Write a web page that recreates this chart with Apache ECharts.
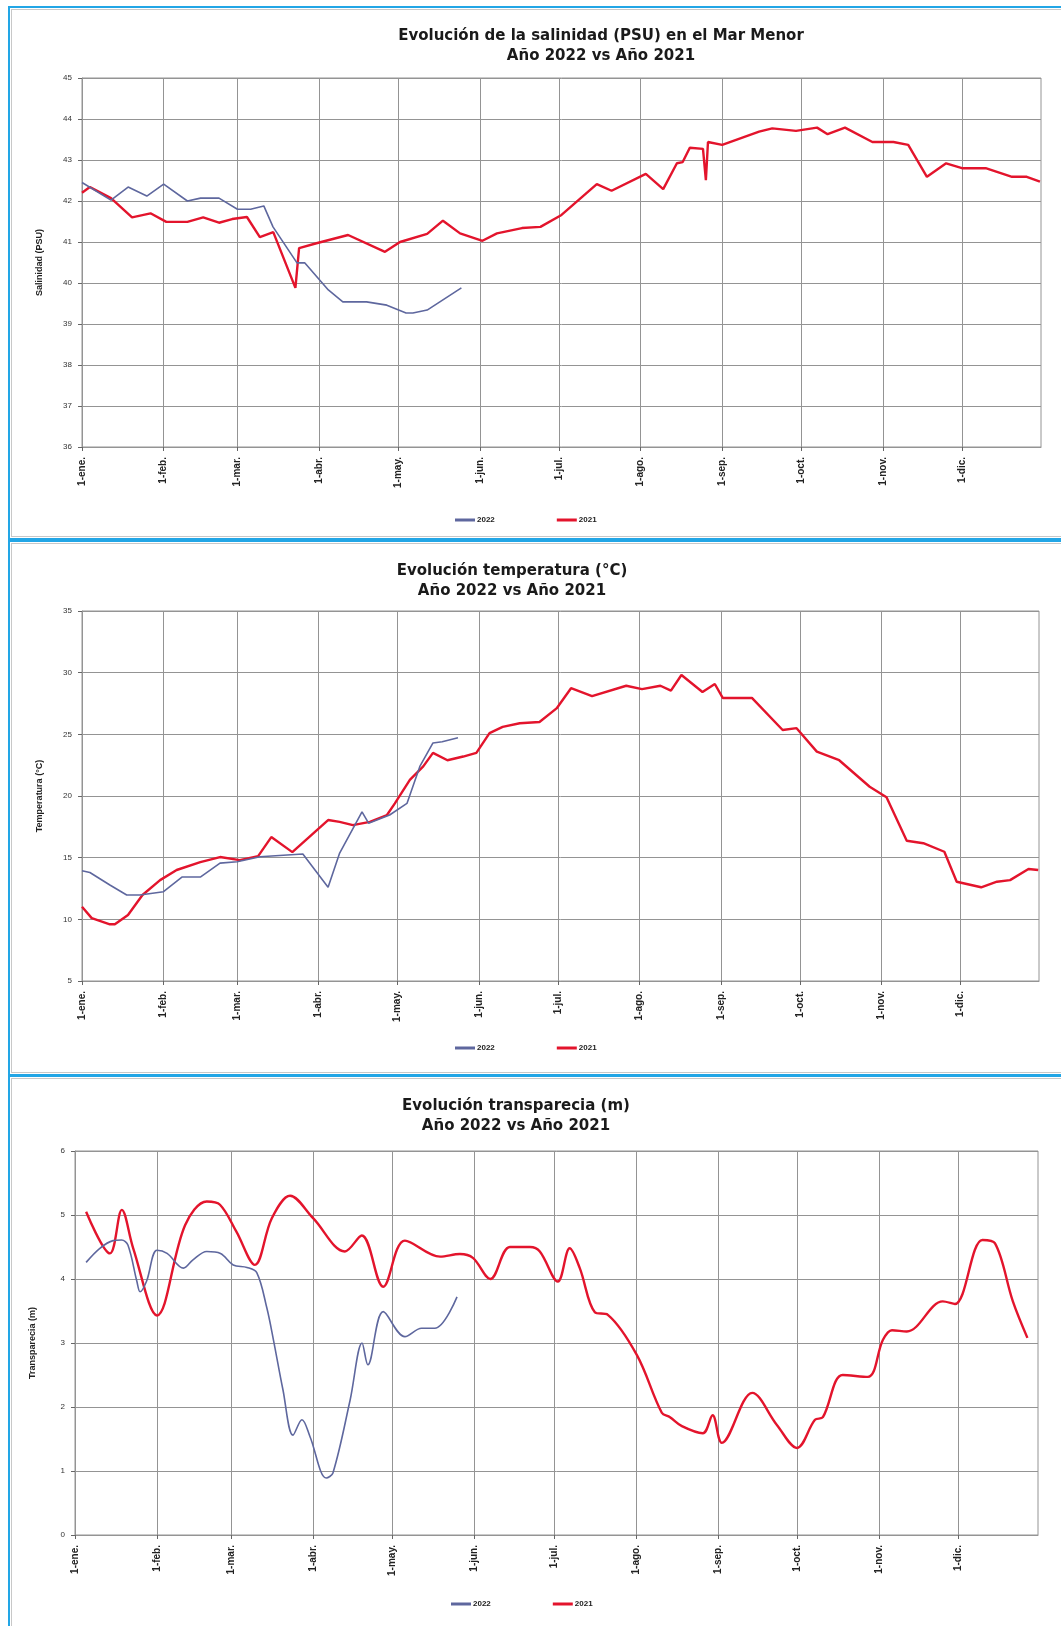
<!DOCTYPE html>
<html><head><meta charset="utf-8">
<script src="https://cdn.jsdelivr.net/npm/echarts@6/dist/echarts.min.js"></script>
<style>
html,body{margin:0;padding:0;background:#fff;}
#wrap{position:relative;width:1061px;height:1626px;overflow:hidden;}
.box{position:absolute;border:2px solid #22a6e6;box-sizing:border-box;}
.inner{position:absolute;border:1px solid #c8c8c8;box-sizing:border-box;}
#chart{position:absolute;left:0;top:0;width:1061px;height:1626px;}
</style></head>
<body><div id="wrap">
<div class="box" style="left:8px;top:6px;width:1070px;height:534px"></div>
<div class="inner" style="left:11px;top:9px;width:1064px;height:528px"></div>
<div class="box" style="left:8px;top:540px;width:1070px;height:536px"></div>
<div class="inner" style="left:11px;top:543px;width:1064px;height:530px"></div>
<div class="box" style="left:8px;top:1075px;width:1070px;height:570px"></div>
<div class="inner" style="left:11px;top:1078px;width:1064px;height:560px"></div>
<div id="chart"></div>
</div>
<script>
// ---- data (x = day of year, 0 = 1 Jan) ----
const monthStarts = [0,31,59,90,120,151,181,212,243,273,304,334];
const monthLabels = ['1-ene.','1-feb.','1-mar.','1-abr.','1-may.','1-jun.','1-jul.','1-ago.','1-sep.','1-oct.','1-nov.','1-dic.'];
const seriesNames = ['2022','2021'];

const sal2022Days = [0,11,17.5,24.6,31,40,45,52,59,64,69,72.5,81.6,84.6,93.5,99,108,115.7,123,125.6,131,144];
const sal2022Vals = [42.45,42.02,42.34,42.12,42.41,42.0,42.07,42.07,41.8,41.8,41.88,41.37,40.49,40.49,39.83,39.54,39.54,39.46,39.27,39.27,39.34,39.88];
const sal2021Days = [0,3,11,19,26,32,40,46,52,57,62.6,67.5,72.6,81,82.4,89,101,115,120.7,131,137,143.5,152,157.5,167,174,182,195.4,201,214,220.6,225.8,228,230.7,235.7,236.8,237.6,243,257,262,271,279,283,289.6,300,308,313.6,320.7,328,334,343,353,358.6,363.6];
const sal2021Vals = [42.2,42.34,42.07,41.6,41.7,41.49,41.49,41.6,41.47,41.56,41.61,41.12,41.24,39.88,40.85,40.97,41.17,40.76,41.0,41.2,41.52,41.21,41.03,41.21,41.34,41.37,41.66,42.41,42.25,42.66,42.29,42.92,42.95,43.3,43.27,42.51,43.44,43.37,43.69,43.77,43.71,43.79,43.63,43.79,43.44,43.44,43.37,42.59,42.92,42.8,42.8,42.59,42.59,42.47];

const temp2022Days = [0,3,10.6,17,22,31,38,45,52.5,59,67.7,84,93.6,98,106.5,109,117,123.6,128.5,133.5,137,143];
const temp2022Vals = [13.94,13.8,12.78,11.97,11.97,12.24,13.43,13.43,14.56,14.67,15.07,15.3,12.6,15.37,18.72,17.8,18.46,19.4,22.4,24.3,24.4,24.72];
const temp2021Days = [0,3.7,10.6,12.5,17.5,23,29.7,36,45,52.5,60,67,72,80,93.6,98,103,109.5,116,119,124.7,129.8,133.5,139,145,150,155,160,166.5,174,180.5,186,194,207,213,220,224,228,236,240.7,243.7,254.8,266.5,271.8,279.5,288,299.6,306,313.7,320,328,332.7,342,348,353,360,363.7];
const temp2021Vals = [11.02,10.1,9.6,9.6,10.35,11.97,13.18,14.0,14.64,15.05,14.8,15.13,16.67,15.45,18.05,17.9,17.64,17.9,18.46,19.4,21.3,22.4,23.5,22.9,23.2,23.5,25.1,25.6,25.9,26.0,27.1,28.74,28.1,28.94,28.67,28.94,28.54,29.81,28.43,29.08,27.95,27.95,25.35,25.5,23.6,22.9,20.75,19.9,16.37,16.17,15.48,13.05,12.6,13.05,13.18,14.08,14.0];

const trans2022Days = [4.2,9.4,14.4,17.6,20,23.4,24.6,27,31,34.8,41,44.6,49.8,55,59.8,65,68.7,72.5,75,78.6,82.4,85.8,88.8,95,97.5,104,108.5,110.7,116.5,124.7,131,136,144.4];
const trans2022Vals = [4.26,4.48,4.6,4.61,4.53,3.96,3.8,3.96,4.45,4.4,4.17,4.3,4.43,4.4,4.22,4.18,4.1,3.55,3.05,2.27,1.56,1.8,1.54,0.89,0.97,2.11,3.0,2.66,3.49,3.1,3.23,3.23,3.72];
const trans2021Days = [4.2,13.2,17.7,22,31,41.6,49.8,54.8,61,68,74.4,81.3,90,102,108.4,116.5,124.7,138,145.5,150.4,157,164.4,172,175.7,182.5,187,190.8,196.5,201.4,212.4,221.8,224.9,229.4,237.3,241,244.5,256,265.3,272.9,279.7,282.7,290.2,299.7,305.4,308.8,314.4,328,332.6,343,347.7,354.5,360];
const trans2021Vals = [5.05,4.4,5.08,4.48,3.43,4.84,5.21,5.16,4.74,4.22,4.95,5.3,4.95,4.43,4.68,3.88,4.6,4.35,4.39,4.33,4.0,4.5,4.5,4.43,3.96,4.48,4.17,3.48,3.44,2.81,1.91,1.84,1.7,1.59,1.87,1.44,2.22,1.72,1.36,1.8,1.84,2.5,2.47,3.05,3.2,3.18,3.65,3.61,4.61,4.56,3.65,3.08];

const titles = [
  'Evolución de la salinidad (PSU) en el Mar Menor\nAño 2022 vs Año 2021',
  'Evolución temperatura (°C)\nAño 2022 vs Año 2021',
  'Evolución transparecia (m)\nAño 2022 vs Año 2021'
];
const yNames = ['Salinidad (PSU)','Temperatura (°C)','Transparecia (m)'];

// ---- layout ----
const FONT = '"Liberation Sans", Arial, sans-serif';
const TFONT = '"DejaVu Sans", "Liberation Sans", sans-serif';
const C2022 = '#5e679e', C2021 = '#e3142c';
const grids = [
  {left:82, top:78, width:959, height:369},
  {left:82, top:611, width:957, height:370},
  {left:75, top:1151, width:963, height:384}
];
const titlePos = [{x:596,y:21},{x:507,y:556},{x:511,y:1091}];
const legendPos = [{x:450,y:511},{x:450,y:1039},{x:446,y:1595}];
const yAxes = [{min:36,max:45,interval:1},{min:5,max:35,interval:5},{min:0,max:6,interval:1}];
const dataSets = [
  [[sal2022Days,sal2022Vals],[sal2021Days,sal2021Vals]],
  [[temp2022Days,temp2022Vals],[temp2021Days,temp2021Vals]],
  [[trans2022Days,trans2022Vals],[trans2021Days,trans2021Vals]]
];
const zip = (d,v) => d.map((x,i)=>[x,v[i]]);
const gridColor = '#949494';

const option = {
  animation:false,
  backgroundColor:'transparent',
  title: titles.map((t,i)=>({
    text:t, left:titlePos[i].x, top:titlePos[i].y, textAlign:'center',
    textStyle:{fontFamily:TFONT,fontSize:15,fontWeight:'bold',color:'#1a1a1a',lineHeight:20}
  })),
  legend: grids.map((g,i)=>({
    data:seriesNames.map(n=>({name:n+'_'+i})), left:legendPos[i].x, top:legendPos[i].y,
    orient:'horizontal', itemGap:62, itemWidth:20, itemHeight:3, icon:'rect',
    formatter:(n)=>n.split('_')[0],
    textStyle:{fontFamily:FONT,fontSize:8,color:'#222',fontWeight:'bold',padding:[0,0,0,-3]}
  })),
  grid: grids.map(g=>({...g, show:true, borderColor:gridColor, borderWidth:1, backgroundColor:'#fff'})),
  xAxis: grids.map((g,i)=>({
    gridIndex:i, type:'value', min:0, max:364,
    axisLine:{show:true,lineStyle:{color:gridColor}},
    axisTick:{show:true, customValues:monthStarts, length:4, lineStyle:{color:'#666'}},
    axisLabel:{show:true, customValues:monthStarts, rotate:90, margin:10,
      fontFamily:FONT, fontSize:10, fontWeight:'bold', color:'#222',
      formatter:(v)=>monthLabels[monthStarts.indexOf(Math.round(v))] || ''},
    splitLine:{show:true, lineStyle:{color:gridColor,width:1}}
  })),
  yAxis: grids.map((g,i)=>({
    gridIndex:i, type:'value', min:yAxes[i].min, max:yAxes[i].max, interval:yAxes[i].interval,
    name:yNames[i], nameLocation:'middle', nameRotate:90, nameGap:38,
    nameTextStyle:{fontFamily:FONT,fontSize:9,fontWeight:'bold',color:'#222'},
    axisLine:{show:true,lineStyle:{color:gridColor}},
    axisTick:{show:true,length:4,lineStyle:{color:'#666'}},
    axisLabel:{fontFamily:FONT,fontSize:8,color:'#333',margin:10},
    splitLine:{show:true,lineStyle:{color:gridColor,width:1}}
  })),
  series: []
};
dataSets.forEach((pair,i)=>{
  pair.forEach((dv,k)=>{
    option.series.push({
      name:seriesNames[k]+'_'+i, type:'line', xAxisIndex:i, yAxisIndex:i,
      data:zip(dv[0],dv[1]), showSymbol:false, symbol:'none',
      smooth: i===2 ? 0.35 : false,
      z: k===0 ? 3 : 2,
      lineStyle:{color: k===0?C2022:C2021, width: k===0?1.6:2.4},
      itemStyle:{color: k===0?C2022:C2021}
    });
  });
});
const chart = echarts.init(document.getElementById('chart'), null, {renderer:'canvas'});
chart.setOption(option);
</script>
</body></html>
